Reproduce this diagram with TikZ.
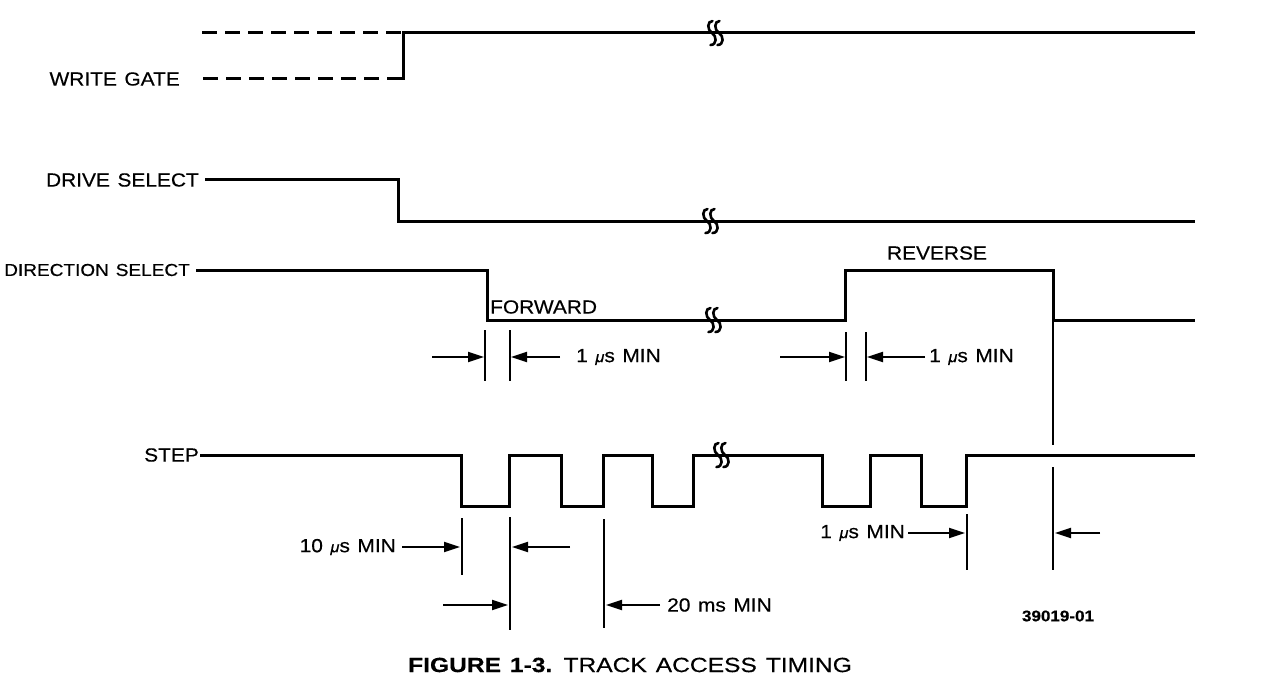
\documentclass[tikz,border=0pt]{standalone}
\usepackage{fontspec}
\setmainfont{Liberation Sans}[FakeStretch=1.1, FakeBold=0.4, WordSpace=1.3]
\newfontfamily\capfont{Liberation Sans}[FakeStretch=1.2, FakeBold=0.4, WordSpace=1.3]
\usetikzlibrary{arrows.meta}
\newcommand{\mutxt}{{\fontsize{15}{15}\selectfont\itshape μ}}
\tikzset{
  sig/.style={line width=3pt, line join=miter},
  dashsig/.style={sig, dash pattern=on 15pt off 8pt},
  dim/.style={line width=1.8pt},
  arr/.style={line width=1.8pt, -{Triangle[length=16pt,width=10pt]}},
  lbl/.style={inner sep=0pt, font=\fontsize{19}{22}\selectfont},
  brk/.pic={\draw[line width=2.6pt, line cap=round]
      (-0.5,-12) .. controls (-6,-12) and (-6,-3) .. (-1,0) .. controls (4,3) and (4,12) .. (-2.5,12)
      (6.5,-12) .. controls (1,-12) and (1,-3) .. (6,0) .. controls (11,3) and (11,12) .. (4.5,12);}
}
\begin{document}
\begin{tikzpicture}[x=1pt,y=-1pt]
\useasboundingbox (0,0) rectangle (1267,693);

% ---------- WRITE GATE ----------
\node[lbl, anchor=east] (wg) at (180,79) {WRITE GATE};
\draw[dashsig] (202,33) -- (403,33);
\draw[dashsig] (203,79) -- (396,79);
\draw[sig] (396,79) -- (403,79) -- (403,33) -- (1195,33);
\pic at (713,33) {brk};

% ---------- DRIVE SELECT ----------
\node[lbl, anchor=east] (ds) at (199,180) {DRIVE SELECT};
\draw[sig] (205,179) -- (398,179) -- (398,221) -- (1195,221);
\pic at (708,221) {brk};

% ---------- DIRECTION SELECT ----------
\node[lbl, anchor=east, font=\fontsize{17.3}{20}\selectfont] (dir) at (190,270) {DIRECTION SELECT};
\draw[sig] (196,270) -- (487,270) -- (487,320) -- (845,320) -- (845,270)
  -- (1053,270) -- (1053,320) -- (1195,320);
\pic at (711,320) {brk};
\node[lbl, anchor=west] (fwd) at (490,307) {FORWARD};
\node[lbl] (rev) at (937,253) {REVERSE};

% direction setup dims
\draw[dim] (485,330) -- (485,381);
\draw[dim] (510,330) -- (510,381);
\draw[arr] (432,357) -- (484,357);
\draw[arr] (560,357) -- (511,357);
\node[lbl, anchor=west] (t1) at (576,357) {1 \mutxt s MIN};

\draw[dim] (846,332) -- (846,381);
\draw[dim] (866,332) -- (866,381);
\draw[arr] (780,357) -- (845,357);
\draw[arr] (925,357) -- (867,357);
\node[lbl, anchor=west] (t2) at (929,357) {1 \mutxt s MIN};

\draw[dim] (1053,322) -- (1053,445);

% ---------- STEP ----------
\node[lbl, anchor=east] (st) at (199,455) {STEP};
\draw[sig] (200,455) -- (461,455) -- (461,506) -- (509,506) -- (509,455)
  -- (561,455) -- (561,506) -- (603,506) -- (603,455)
  -- (652,455) -- (652,506) -- (693,506) -- (693,455)
  -- (822,455) -- (822,506) -- (870,506) -- (870,455)
  -- (921,455) -- (921,506) -- (966,506) -- (966,455) -- (1195,455);
\pic at (719,455) {brk};

% step dims
\draw[dim] (462,518) -- (462,575);
\draw[dim] (510,517) -- (510,630);
\draw[dim] (604,519) -- (604,628);
\draw[dim] (967,514) -- (967,570);
\draw[dim] (1053,467) -- (1053,570);

\node[lbl, anchor=east] (t10) at (396,547) {10 \mutxt s MIN};
\draw[arr] (402,547) -- (460,547);
\draw[arr] (570,547) -- (512,547);
\draw[arr] (443,605) -- (508,605);
\draw[arr] (660,605) -- (606,605);
\node[lbl, anchor=west] (t20) at (667,605) {20 ms MIN};

\node[lbl, anchor=east] (t3) at (905,533) {1 \mutxt s MIN};
\draw[arr] (908,533) -- (965,533);
\draw[arr] (1100,533) -- (1055,533);

\node[inner sep=0pt, font=\fontsize{15.5}{17}\selectfont\bfseries] (num) at (1058,616) {39019-01};

% caption
\node[inner sep=0pt, font=\capfont\fontsize{20.5}{22}\selectfont] (cap) at (630,665)
  {{\bfseries FIGURE 1-3.} TRACK ACCESS TIMING};
\end{tikzpicture}
\end{document}
